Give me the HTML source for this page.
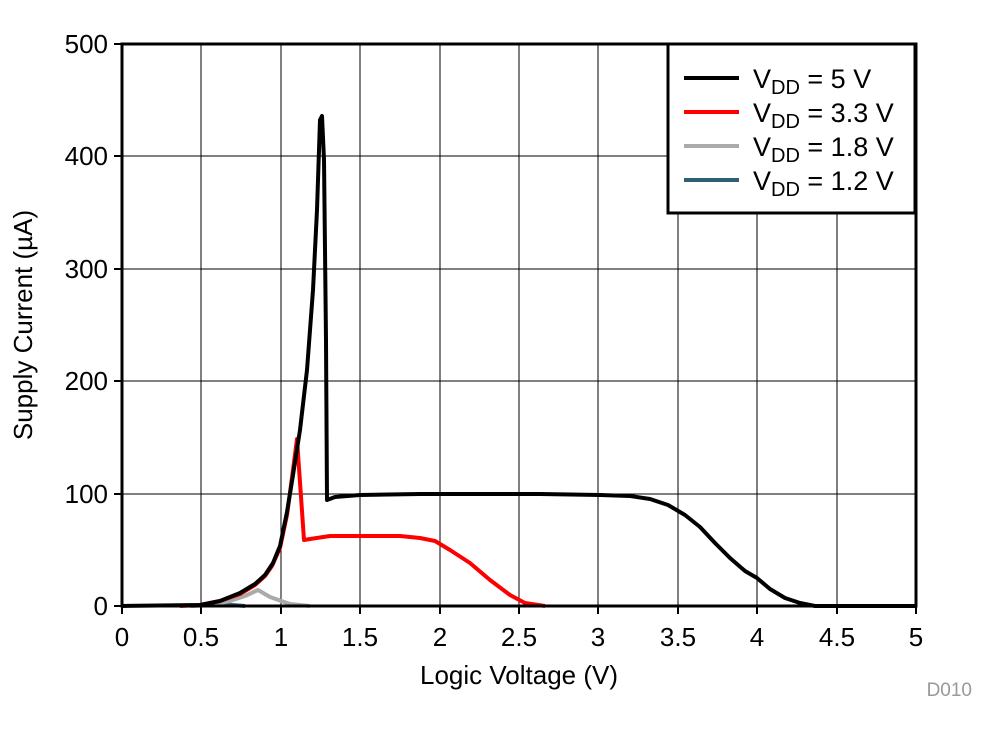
<!DOCTYPE html>
<html><head><style>body{margin:0;background:#fff}</style></head><body>
<svg width="998" height="734" xmlns="http://www.w3.org/2000/svg" font-family="Liberation Sans, sans-serif">
<rect width="998" height="734" fill="#fff"/>
<g stroke="#000" stroke-width="1.3" shape-rendering="crispEdges">
<line x1="201" y1="44" x2="201" y2="606"/><line x1="281" y1="44" x2="281" y2="606"/><line x1="360" y1="44" x2="360" y2="606"/><line x1="440" y1="44" x2="440" y2="606"/><line x1="519" y1="44" x2="519" y2="606"/><line x1="598" y1="44" x2="598" y2="606"/><line x1="678" y1="44" x2="678" y2="606"/><line x1="757" y1="44" x2="757" y2="606"/><line x1="837" y1="44" x2="837" y2="606"/>
<line x1="122" y1="494" x2="916" y2="494"/><line x1="122" y1="381" x2="916" y2="381"/><line x1="122" y1="269" x2="916" y2="269"/><line x1="122" y1="156" x2="916" y2="156"/>
</g>
<g stroke="#000" stroke-width="2">
<line x1="122" y1="606" x2="122" y2="614"/><line x1="201" y1="606" x2="201" y2="614"/><line x1="281" y1="606" x2="281" y2="614"/><line x1="360" y1="606" x2="360" y2="614"/><line x1="440" y1="606" x2="440" y2="614"/><line x1="519" y1="606" x2="519" y2="614"/><line x1="598" y1="606" x2="598" y2="614"/><line x1="678" y1="606" x2="678" y2="614"/><line x1="757" y1="606" x2="757" y2="614"/><line x1="837" y1="606" x2="837" y2="614"/><line x1="916" y1="606" x2="916" y2="614"/>
<line x1="114" y1="606" x2="122" y2="606"/><line x1="114" y1="494" x2="122" y2="494"/><line x1="114" y1="381" x2="122" y2="381"/><line x1="114" y1="269" x2="122" y2="269"/><line x1="114" y1="156" x2="122" y2="156"/><line x1="114" y1="44" x2="122" y2="44"/>
</g>
<g fill="none" stroke-width="4" stroke-linejoin="round">
<polyline stroke="#2e5f73" points="190,606 205,605 220,604 232,605 245,606"/>
<polyline stroke="#aaa" points="190,606 210,605 230,601 245,596 258,590 270,597 290,604 310,606"/>
<polyline stroke="#f00" points="180,606 200,605 220,601 240,594 255,585 265,576 272,566 280,548 287,515 293,470 297,439 304,540 310,539 330,536 400,536 420,538 435,541 450,550 470,563 490,580 510,595 525,603 545,606"/>
<polyline stroke="#000" points="122,606 200,605 220,601 240,593 255,584 265,575 273,563 280,546 287,512 293,475 300,430 307,370 313,290 317,210 320,120 322,116 324,160 326,340 327,500 335,497 360,495 420,494 540,494 600,495 630,496 650,499 668,505 685,515 700,527 715,543 730,558 745,571 757,578 770,589 785,598 800,603 815,606 916,606"/>
</g>
<rect x="122" y="44" width="794" height="562" fill="none" stroke="#000" stroke-width="3"/>
<rect x="668" y="44" width="247" height="169" fill="#fff" stroke="#000" stroke-width="3"/>
<g stroke-width="4"><line x1="684" y1="78" x2="739" y2="78" stroke="#000"/><line x1="684" y1="112" x2="739" y2="112" stroke="#f00"/><line x1="684" y1="146" x2="739" y2="146" stroke="#aaa"/><line x1="684" y1="180" x2="739" y2="180" stroke="#2e5f73"/></g>
<g font-size="27" fill="#000">
<text x="753" y="88">V<tspan font-size="20" dy="6">DD</tspan><tspan dy="-6"> = 5 V</tspan></text>
<text x="753" y="122">V<tspan font-size="20" dy="6">DD</tspan><tspan dy="-6"> = 3.3 V</tspan></text>
<text x="753" y="156">V<tspan font-size="20" dy="6">DD</tspan><tspan dy="-6"> = 1.8 V</tspan></text>
<text x="753" y="190">V<tspan font-size="20" dy="6">DD</tspan><tspan dy="-6"> = 1.2 V</tspan></text>
</g>
<g font-size="26" text-anchor="middle">
<text x="122" y="646">0</text><text x="201" y="646">0.5</text><text x="281" y="646">1</text><text x="360" y="646">1.5</text><text x="440" y="646">2</text><text x="519" y="646">2.5</text><text x="598" y="646">3</text><text x="678" y="646">3.5</text><text x="757" y="646">4</text><text x="837" y="646">4.5</text><text x="916" y="646">5</text>
<text x="519" y="684">Logic Voltage (V)</text>
</g>
<g font-size="26" text-anchor="end">
<text x="108" y="615">0</text><text x="108" y="503">100</text><text x="108" y="390">200</text><text x="108" y="278">300</text><text x="108" y="165">400</text><text x="108" y="53">500</text>
</g>
<text transform="translate(32,325) rotate(-90)" font-size="26" text-anchor="middle">Supply Current (µA)</text>
<text x="972" y="696" font-size="19" fill="#999" text-anchor="end">D010</text>
</svg>
</body></html>
